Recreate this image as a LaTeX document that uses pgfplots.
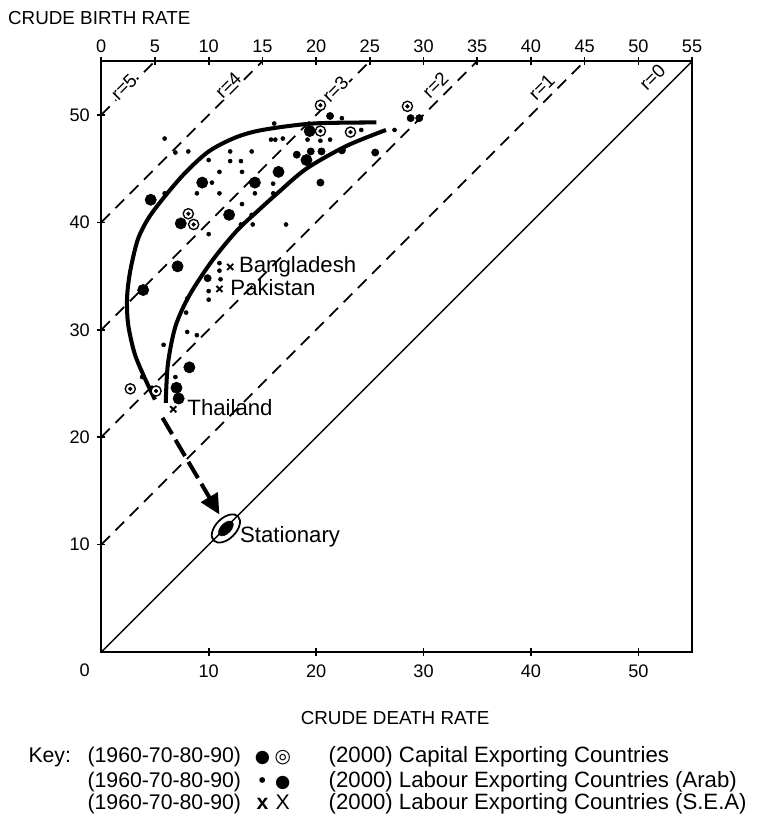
\documentclass[border=0pt]{standalone}
\usepackage{pgfplots}
\pgfplotsset{compat=1.18}
\usepackage{fontspec}
\setmainfont{Liberation Sans}
\newfontfamily\symfont{DejaVu Sans}
\usetikzlibrary{arrows.meta}
\newcommand\capsz{\fontsize{14}{17}\selectfont}
\newcommand\labsz{\fontsize{16.5}{20}\selectfont}
\newcommand\keysz{\fontsize{15.8}{19}\selectfont}
\newcommand\ticksz{\fontsize{13.5}{16}\selectfont}
\begin{document}
\begin{tikzpicture}
\begin{axis}[
  width=439.5pt, height=439.5pt, scale only axis,
  xmin=0, xmax=55, ymin=0, ymax=55,
  xtick={10,20,30,40,50}, ytick={10,20,30,40,50},
  xtick pos=bottom, ytick pos=left,
  tick align=center, major tick length=6pt,
  axis line style={line width=1.6pt},
  every tick/.style={line width=1.2pt, black},
  tick label style={font=\ticksz},
  /pgf/number format/assume math mode=true,
  xticklabel style={yshift=-3pt},
  yticklabel style={xshift=-2pt},
  clip=false,
]
% bounding box corners
\coordinate (bbll) at (axis cs:-9.43,-15.64);
\coordinate (bbur) at (axis cs:62.33,60.7);
% r lines
\addplot[line width=1.1pt] coordinates {(0,0) (55,55)};
\addplot[line width=1.3pt, dash pattern=on 9pt off 6pt] coordinates {(0,10) (45,55)};
\addplot[line width=1.3pt, dash pattern=on 9pt off 6pt] coordinates {(0,20) (35,55)};
\addplot[line width=1.3pt, dash pattern=on 9pt off 6pt] coordinates {(0,30) (25,55)};
\addplot[line width=1.3pt, dash pattern=on 9pt off 6pt] coordinates {(0,40) (15,55)};
\addplot[line width=1.3pt, dash pattern=on 9pt off 6pt] coordinates {(0,50) (5,55)};
% r labels
\node[rotate=45, font=\capsz, fill=white, inner sep=0.5pt] at (axis cs:2.1,52.6) {r=5};
\node[rotate=45, font=\capsz, fill=white, inner sep=0.5pt] at (axis cs:11.8,52.8) {r=4};
\node[rotate=45, font=\capsz, fill=white, inner sep=0.5pt] at (axis cs:21.8,52.4) {r=3};
\node[rotate=45, font=\capsz, fill=white, inner sep=0.5pt] at (axis cs:31.1,52.8) {r=2};
\node[rotate=45, font=\capsz, fill=white, inner sep=0.5pt] at (axis cs:41.0,52.6) {r=1};
\node[rotate=45, font=\capsz, fill=white, inner sep=0.5pt] at (axis cs:51.3,53.5) {r=0};
% curves
\addplot[line width=3pt, smooth] coordinates {(5.0,23.5) (4.0,25.6) (3.1,27.8) (2.5,30.5) (2.4,33.0) (2.7,35.5) (3.4,38.4) (4.4,40.4) (5.9,42.4) (7.8,44.6) (10.0,46.6) (12.5,47.9) (15.0,48.6) (19.7,49.2) (25.6,49.3)};
\addplot[line width=3pt, smooth] coordinates {(6.0,23.2) (6.2,26.8) (6.9,30.3) (8.2,33.2) (10.3,36.4) (12.6,39.2) (14.5,41.0) (16.5,42.8) (19.1,45.0) (22.8,47.1) (26.5,48.6)};
% arrow to stationary
\addplot[line width=3pt, dash pattern=on 14pt off 5pt, -{Triangle[length=15pt,width=14pt]}] coordinates {(5.7,21.8) (11.0,12.8)};
% large dots (capital exporting 1960-90)
\addplot[only marks, mark=*, mark size=4.2pt] coordinates {(9.4,43.7) (14.3,43.7) (4.6,42.1) (11.9,40.7) (7.4,39.9) (7.1,35.9) (3.9,33.7) (8.2,26.5) (7.0,24.6) (7.2,23.6) (19.4,48.5) (16.5,44.7) (19.1,45.8)};
% medium dots (labour arab 2000)
\addplot[only marks, mark=*, mark size=2.7pt] coordinates {(21.3,49.9) (28.8,49.7) (29.6,49.7) (19.5,46.6) (20.5,46.6) (22.4,46.7) (25.5,46.5) (18.2,46.3) (20.4,43.7) (9.9,34.8)};
% small dots (labour arab 1960-90)
\addplot[only marks, mark=*, mark size=1.5pt] coordinates {(5.9,47.8) (6.9,46.5) (8.1,46.6) (10.0,45.8) (12.0,46.6) (14.0,46.6) (12.0,45.7) (13.0,45.7) (11.0,44.7) (13.1,44.7) (10.3,43.7) (8.9,42.7) (11.0,42.7) (5.9,42.7) (13.1,41.7) (14.3,42.7) (14.0,40.7) (22.4,49.7) (16.1,49.2) (24.2,48.6) (27.3,48.6) (15.8,47.7) (16.2,47.7) (16.9,47.8) (19.2,47.7) (20.4,47.6) (21.3,47.7) (16.0,43.6) (16.0,42.7) (10.0,38.9) (13.0,39.8) (14.1,39.8) (17.2,39.8) (11.1,34.7) (10.0,32.8) (8.0,32.9) (7.9,31.6) (8.0,29.8) (8.9,29.5) (5.8,28.6) (6.9,25.6) (3.8,25.6) (11.0,36.2) (11.0,35.5) (10.0,33.6)};
% circled (capital exporting 2000)
\addplot[only marks, mark=*, mark size=3.8pt, mark options={fill=white, draw=black, line width=1pt}] coordinates {(20.4,50.9) (28.5,50.8) (20.4,48.5) (23.2,48.4) (8.1,40.8) (8.6,39.8) (2.7,24.5) (5.1,24.3)};
\addplot[only marks, mark=*, mark size=1.4pt] coordinates {(20.4,50.9) (28.5,50.8) (20.4,48.5) (23.2,48.4) (8.1,40.8) (8.6,39.8) (2.7,24.5) (5.1,24.3)};
% X marks (S.E.A. 2000)
\addplot[only marks, mark=x, mark size=3.2pt, mark options={line width=1.4pt}] coordinates {(12.0,35.85) (11.0,33.8) (6.7,22.6)};
% stationary
\addplot[only marks, mark=o, mark size=7.6pt, mark options={rotate=45, xscale=1.68, line width=1.3pt}] coordinates {(11.6,11.5)};
\addplot[only marks, mark=*, mark size=3.8pt, mark options={rotate=45, xscale=1.8}] coordinates {(11.6,11.5)};
% annotations
\node[anchor=base west, font=\labsz, inner sep=0pt] at (axis cs:12.9,10.15) {Stationary};
\node[anchor=base west, font=\labsz, inner sep=0pt] at (axis cs:8.0,22.0) {Thailand};
\node[anchor=base west, font=\labsz, inner sep=0pt] at (axis cs:12.8,35.3) {Bangladesh};
\node[anchor=base west, font=\labsz, inner sep=0pt] at (axis cs:12.0,33.2) {Pakistan};
% titles
\node[anchor=west, font=\capsz, inner sep=0pt] at (axis cs:-8.7,59.0) {CRUDE BIRTH RATE};
\node[font=\capsz, inner sep=0pt] at (axis cs:27.35,-6.15) {CRUDE DEATH RATE};
\node[font=\ticksz, inner sep=0pt] at (axis cs:-1.55,-1.68) {0};
% key
\node[anchor=base west, font=\keysz, inner sep=0pt] at (axis cs:-6.8,-10.24) {Key:};
\node[anchor=base west, font=\keysz, inner sep=0pt] at (axis cs:-1.3,-10.24) {(1960-70-80-90)};
\node[anchor=base west, font=\keysz, inner sep=0pt] at (axis cs:-1.3,-12.57) {(1960-70-80-90)};
\node[anchor=base west, font=\keysz, inner sep=0pt] at (axis cs:-1.3,-14.62) {(1960-70-80-90)};
\node[anchor=base, font=\keysz, inner sep=0pt] at (axis cs:15.0,-10.24) {\symfont\fontsize{13}{15}\selectfont ●};
\node[anchor=base, font=\keysz, inner sep=0pt] at (axis cs:16.9,-10.24) {\symfont\fontsize{14}{15}\selectfont ◎};
\node[anchor=base, font=\keysz, inner sep=0pt] at (axis cs:15.0,-12.57) {•};
\node[anchor=base, font=\keysz, inner sep=0pt] at (axis cs:16.9,-12.57) {\symfont\fontsize{13}{15}\selectfont ●};
\node[anchor=base, font=\keysz, inner sep=0pt] at (axis cs:15.0,-14.62) {\bfseries x};
\node[anchor=base, font=\keysz, inner sep=0pt] at (axis cs:16.9,-14.62) {X};
\node[anchor=base west, font=\labsz, inner sep=0pt] at (axis cs:21.15,-10.24) {(2000) Capital Exporting Countries};
\node[anchor=base west, font=\labsz, inner sep=0pt] at (axis cs:21.15,-12.57) {(2000) Labour Exporting Countries (Arab)};
\node[anchor=base west, font=\labsz, inner sep=0pt] at (axis cs:21.15,-14.62) {(2000) Labour Exporting Countries (S.E.A)};
\end{axis}
\begin{axis}[
  width=439.5pt, height=439.5pt, scale only axis,
  xmin=0, xmax=55, ymin=0, ymax=55,
  axis x line*=top, axis y line=none,
  xtick={0,5,...,55},
  tick align=center, major tick length=6pt,
  axis line style={line width=1.6pt},
  every tick/.style={line width=1.2pt, black},
  tick label style={font=\ticksz},
  /pgf/number format/assume math mode=true,
]
\addplot[draw=none] coordinates {(0,0)};
\end{axis}
\pgfresetboundingbox
\useasboundingbox (bbll) rectangle (bbur);
\end{tikzpicture}
\end{document}
